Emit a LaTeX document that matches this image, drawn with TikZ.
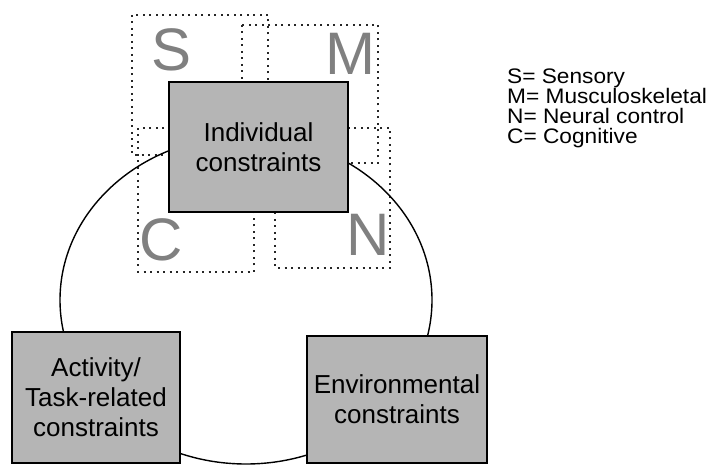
\documentclass[tikz,border=0pt]{standalone}
\usepackage{fontspec}
\setmainfont{Liberation Sans}
\newfontfamily\legendfont[FakeStretch=1.08]{Liberation Sans}
\definecolor{boxgray}{HTML}{B5B5B5}
\begin{document}
\begin{tikzpicture}[x=1pt,y=-1pt,
  dbox/.style={draw=black!85, line width=1.6pt, dash pattern=on 2pt off 4.5pt},
  cbox/.style={draw=black, line width=2pt, fill=boxgray, inner sep=0pt, align=center,
    font=\fontsize{26}{30}\selectfont},
  letter/.style={text=black!50, font=\fontsize{60}{60}\selectfont, inner sep=0pt},
  legend/.style={anchor=base west, font=\legendfont\fontsize{21}{20}\selectfont, inner sep=0pt}]
\useasboundingbox (0,0) rectangle (726,465);
% dashed sub-domain boxes
\draw[dbox] (132,15) rectangle (268,155);
\draw[dbox] (242,25) rectangle (378,163);
\draw[dbox] (275,128) rectangle (390,268);
\draw[dbox] (138,128) rectangle (254,272);
\node[letter] (S) at (172,50) {S};
\node[letter] (M) at (350,54) {M};
\node[letter] (C) at (161,240) {C};
\node[letter] (N) at (368,235) {N};
% cycle
\draw[line width=1.4pt] (246,300) ellipse [x radius=186pt, y radius=164pt];
% constraint boxes
\node[cbox, minimum width=179pt, minimum height=130pt] (ind) at (258.5,147) {Individual\\constraints};
\node[cbox, minimum width=168pt, minimum height=131pt] (act) at (96,397.5) {Activity/\\Task-related\\constraints};
\node[cbox, minimum width=180pt, minimum height=127pt] (env) at (397,399.5) {Environmental\\constraints};
% legend
\node[legend] (l1) at (507,84) {S= Sensory};
\node[legend] (l2) at (507,104) {M= Musculoskeletal};
\node[legend] (l3) at (507,124) {N= Neural control};
\node[legend] (l4) at (507,144) {C= Cognitive};
\end{tikzpicture}
\end{document}
